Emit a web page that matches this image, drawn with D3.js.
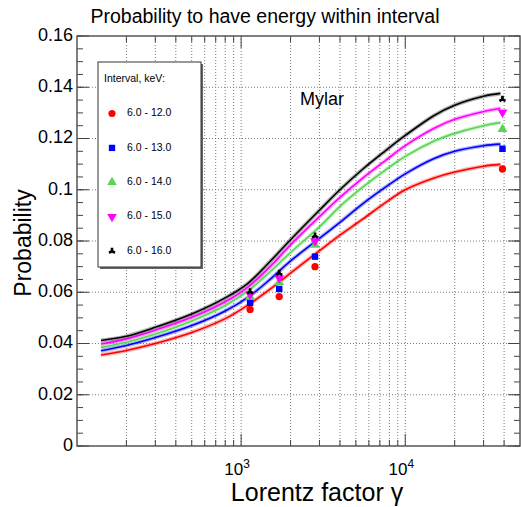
<!DOCTYPE html>
<html>
<head>
<meta charset="utf-8">
<script src="https://cdn.jsdelivr.net/npm/d3@7"></script>
<style>
  html, body { margin: 0; padding: 0; background: #ffffff; }
  svg { display: block; font-family: "Liberation Sans", Arial, Helvetica, sans-serif; }
</style>
</head>
<body>
<svg id="chart" width="521" height="507"></svg>
<script>
// values
const gammaGrid = [140, 200, 300, 500, 800, 1100, 1500, 2000, 3000, 4000, 5500, 7500, 10000, 15000, 20000, 30000, 38000];
const curve12 = [0.0355, 0.0373, 0.0400, 0.0443, 0.0497, 0.0550, 0.0612, 0.0675, 0.0762, 0.0823, 0.0885, 0.0948, 0.1000, 0.1046, 0.1069, 0.1092, 0.1099];
const curve13 = [0.0372, 0.0392, 0.0423, 0.0470, 0.0527, 0.0580, 0.0650, 0.0722, 0.0810, 0.0873, 0.0945, 0.1008, 0.1062, 0.1122, 0.1150, 0.1172, 0.1178];
const curve14 = [0.0385, 0.0405, 0.0437, 0.0488, 0.0548, 0.0605, 0.0680, 0.0755, 0.0855, 0.0935, 0.1010, 0.1075, 0.1130, 0.1190, 0.1220, 0.1250, 0.1262];
const curve15 = [0.0398, 0.0418, 0.0452, 0.0502, 0.0563, 0.0620, 0.0700, 0.0785, 0.0895, 0.0970, 0.1045, 0.1112, 0.1172, 0.1240, 0.1275, 0.1305, 0.1318];
const curve16 = [0.0412, 0.0428, 0.0463, 0.0515, 0.0578, 0.0635, 0.0720, 0.0805, 0.0920, 0.1000, 0.1080, 0.1150, 0.1212, 0.1290, 0.1330, 0.1365, 0.1376];

const pointGamma = [1134, 1706, 2819, 39100];
const point12 = [0.0533, 0.0583, 0.0700, 0.1081];
const point13 = [0.0559, 0.0613, 0.0739, 0.1160];
const point14 = [0.0583, 0.0639, 0.0785, 0.1236];
const point15 = [0.0592, 0.0655, 0.0800, 0.1302];
const point16 = [0.0602, 0.0674, 0.0820, 0.1353];

const intervals = ["6.0 - 12.0", "6.0 - 13.0", "6.0 - 14.0", "6.0 - 15.0", "6.0 - 16.0"];
const yTicks = [0, 0.02, 0.04, 0.06, 0.08, 0.1, 0.12, 0.14, 0.16];
const xMajor = [1000, 10000];

const series = [
  { name: intervals[0], color: "#ff0000", marker: "circle",   curve: curve12, points: point12 },
  { name: intervals[1], color: "#0000ff", marker: "square",   curve: curve13, points: point13 },
  { name: intervals[2], color: "#59d454", marker: "triangle", curve: curve14, points: point14 },
  { name: intervals[3], color: "#ff00ff", marker: "down",     curve: curve15, points: point15 },
  { name: intervals[4], color: "#000000", marker: "wye",      curve: curve16, points: point16 }
];

const svg = d3.select("#chart");
const plotLeft = 77, plotRight = 520, plotTop = 36, plotBottom = 446;

const x = d3.scaleLog().domain([100, 50000]).range([plotLeft, plotRight]);
const y = d3.scaleLinear().domain([0, 0.16]).range([plotBottom, plotTop]);

// minor log ticks: 200..900, 2000..9000, 20000..40000
const xMinor = [];
[100, 1000, 10000].forEach(base => {
  for (let k = 2; k <= 9; k++) {
    const v = base * k;
    if (v < 50000) xMinor.push(v);
  }
});
const yMinor = d3.range(0, 0.1601, 0.005);

// grid
const grid = svg.append("g")
  .attr("stroke", "#7a7a7a")
  .attr("stroke-width", 1)
  .attr("stroke-dasharray", "1,2");
xMinor.concat(xMajor).forEach(v => {
  grid.append("line")
    .attr("x1", x(v)).attr("x2", x(v))
    .attr("y1", plotTop).attr("y2", plotBottom);
});
yTicks.slice(1, -1).forEach(v => {
  grid.append("line")
    .attr("x1", plotLeft).attr("x2", plotRight)
    .attr("y1", y(v)).attr("y2", y(v));
});

// ticks
const ticks = svg.append("g").attr("stroke", "#444").attr("stroke-width", 1);
function tickX(v, len) {
  ticks.append("line").attr("x1", x(v)).attr("x2", x(v)).attr("y1", plotBottom).attr("y2", plotBottom - len);
  ticks.append("line").attr("x1", x(v)).attr("x2", x(v)).attr("y1", plotTop).attr("y2", plotTop + len);
}
function tickY(v, len) {
  ticks.append("line").attr("x1", plotLeft).attr("x2", plotLeft + len).attr("y1", y(v)).attr("y2", y(v));
  ticks.append("line").attr("x1", plotRight).attr("x2", plotRight - len).attr("y1", y(v)).attr("y2", y(v));
}
xMinor.forEach(v => tickX(v, 6));
xMajor.forEach(v => tickX(v, 12));
yMinor.forEach(v => tickY(v, 6));
yTicks.forEach(v => tickY(v, 12));

// frame
svg.append("rect")
  .attr("x", plotLeft).attr("y", plotTop)
  .attr("width", plotRight - plotLeft).attr("height", plotBottom - plotTop)
  .attr("fill", "none")
  .attr("stroke", "#555")
  .attr("stroke-width", 1.5);

// tick labels
svg.append("g").selectAll("text")
  .data(yTicks)
  .join("text")
  .attr("x", plotLeft - 4)
  .attr("y", d => y(d))
  .attr("text-anchor", "end")
  .attr("dominant-baseline", "middle")
  .attr("font-size", 18)
  .text(d => String(+d.toFixed(2)));

xMajor.forEach(v => {
  const t = svg.append("text")
    .attr("x", x(v) - 4)
    .attr("y", 475)
    .attr("text-anchor", "middle")
    .attr("font-size", 17);
  t.append("tspan").text("10");
  t.append("tspan")
    .attr("dy", -7)
    .attr("font-size", 12)
    .text(String(Math.round(Math.log10(v))));
});

// axis titles
svg.append("text")
  .attr("x", 317).attr("y", 501)
  .attr("text-anchor", "middle")
  .attr("font-size", 25)
  .text("Lorentz factor \u03b3");

svg.append("text")
  .attr("transform", "translate(31,243) rotate(-90)")
  .attr("text-anchor", "middle")
  .attr("font-size", 23)
  .text("Probability");

svg.append("text")
  .attr("x", 265).attr("y", 23)
  .attr("text-anchor", "middle")
  .attr("font-size", 19.5)
  .text("Probability to have energy within interval");

svg.append("text")
  .attr("x", 300).attr("y", 105)
  .attr("font-size", 18)
  .text("Mylar");

// curves
const line = d3.line()
  .x(d => x(d[0]))
  .y(d => y(d[1]))
  .curve(d3.curveCatmullRom.alpha(0.5));

const curves = svg.append("g").attr("fill", "none");
series.forEach(s => {
  const pts = gammaGrid.map((g, i) => [g, s.curve[i]]);
  curves.append("path")
    .attr("d", line(pts))
    .attr("stroke", s.color)
    .attr("stroke-width", 4)
    .attr("stroke-opacity", 0.3);
  curves.append("path")
    .attr("d", line(pts))
    .attr("stroke", s.color)
    .attr("stroke-width", 1.6);
});

// markers
function markerPath(type, size) {
  switch (type) {
    case "circle":
      return d3.symbol(d3.symbolCircle, size)();
    case "square":
      return d3.symbol(d3.symbolSquare, size)();
    case "triangle":
    case "down":
      return d3.symbol(d3.symbolTriangle, size)();
    default:
      return d3.symbol(d3.symbolWye, size * 0.6)();
  }
}
function markerTransform(type, px, py) {
  if (type === "down" || type === "wye") return `translate(${px},${py}) rotate(180)`;
  return `translate(${px},${py})`;
}

const marks = svg.append("g");
series.forEach(s => {
  pointGamma.forEach((g, i) => {
    marks.append("path")
      .attr("d", markerPath(s.marker, 42))
      .attr("transform", markerTransform(s.marker, x(g), y(s.points[i])))
      .attr("fill", s.color);
  });
});

// legend
const legend = svg.append("g");
legend.append("rect")
  .attr("x", 100).attr("y", 64)
  .attr("width", 103).attr("height", 205)
  .attr("fill", "#666");
legend.append("rect")
  .attr("x", 98).attr("y", 62)
  .attr("width", 103).attr("height", 205)
  .attr("fill", "#ffffff")
  .attr("stroke", "#333")
  .attr("stroke-width", 1);
legend.append("text")
  .attr("x", 104).attr("y", 82)
  .attr("font-size", 10.5)
  .text("Interval, keV:");
series.forEach((s, i) => {
  const cy = 113.5 + i * 34.4;
  legend.append("path")
    .attr("d", markerPath(s.marker, 40))
    .attr("transform", markerTransform(s.marker, 112, cy))
    .attr("fill", s.color);
  legend.append("text")
    .attr("x", 127).attr("y", cy)
    .attr("dominant-baseline", "middle")
    .attr("font-size", 10.5)
    .text(s.name);
});
</script>
</body>
</html>
